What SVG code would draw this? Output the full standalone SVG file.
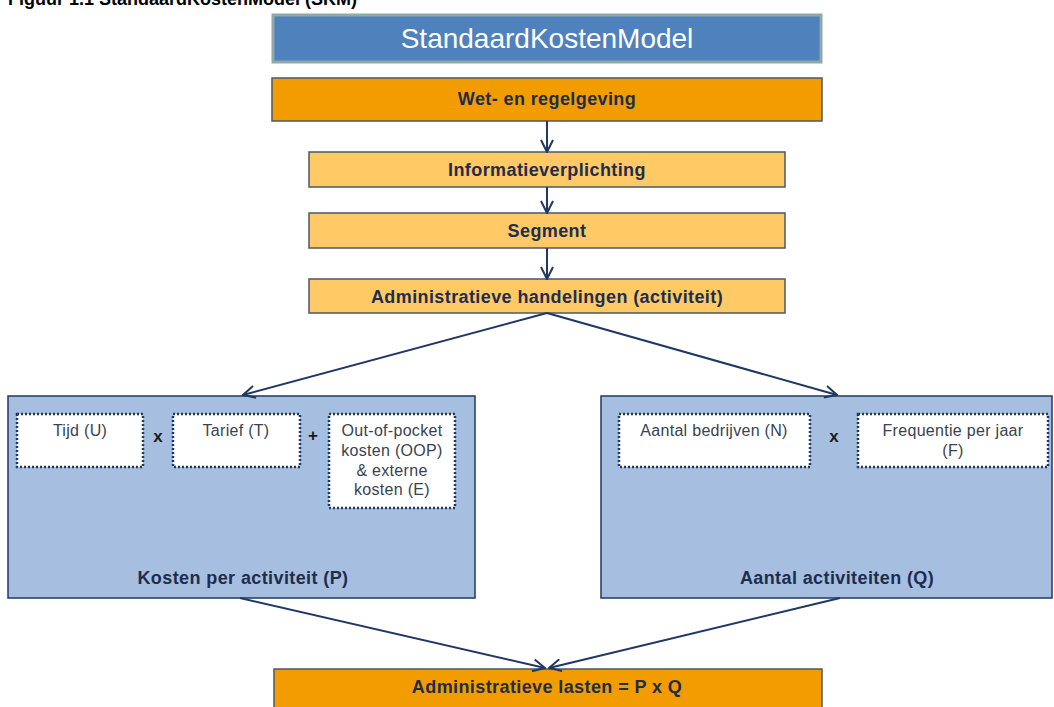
<svg xmlns="http://www.w3.org/2000/svg" width="1054" height="707" viewBox="0 0 1054 707">
<style>
.dark{fill:#F39C00;stroke:#4A5868;stroke-width:1.5}
.light{fill:#FFC966;stroke:#4A5868;stroke-width:1.5}
.big{fill:#A6BFE1;stroke:#1F3864;stroke-width:1.5}
.dot{fill:#FFFFFF;stroke:#1F3864;stroke-width:2.5;stroke-dasharray:2 2}
.bt{font-family:"Liberation Sans",Arial,sans-serif;font-weight:bold;font-size:18px;letter-spacing:0.4px;fill:#1F2D4D;text-anchor:middle}
.st{font-family:"Liberation Sans",Arial,sans-serif;font-size:16px;letter-spacing:0.3px;fill:#3A4250;text-anchor:middle}
.op{font-family:"Liberation Sans",Arial,sans-serif;font-weight:bold;font-size:17px;fill:#1A1A1A;text-anchor:middle}
.conn{stroke:#1F3864;stroke-width:2;fill:none;marker-end:url(#arr)}
</style>
<defs>
<marker id="arr" viewBox="0 0 14 14" refX="13" refY="7" markerWidth="14" markerHeight="14" markerUnits="userSpaceOnUse" orient="auto">
<path d="M1,1 L13,7 L1,13" fill="none" stroke="#1F3864" stroke-width="2"/>
</marker>
</defs>
<rect width="1054" height="707" fill="#FFFFFF"/>
<text x="8" y="5" font-family="Liberation Sans,Arial,sans-serif" font-weight="bold" font-size="18" fill="#000">Figuur 1.1 StandaardKostenModel (SKM)</text>
<g id="header">
<rect x="273" y="15" width="548" height="47" fill="#4F81BD" stroke="#8FA8A8" stroke-width="3"/>
<text x="547" y="48" font-family="Liberation Sans,Arial,sans-serif" font-size="28" fill="#FFFFFF" text-anchor="middle">StandaardKostenModel</text>
</g>
<g id="wet">
<rect class="dark" x="272" y="78" width="550" height="43"/>
<text class="bt" x="547" y="105">Wet- en regelgeving</text>
</g>
<g id="info">
<rect class="light" x="309" y="152" width="476" height="35"/>
<text class="bt" x="547" y="176">Informatieverplichting</text>
</g>
<g id="segment">
<rect class="light" x="309" y="213" width="476" height="35"/>
<text class="bt" x="547" y="237">Segment</text>
</g>
<g id="handelingen">
<rect class="light" x="309" y="279" width="476" height="34"/>
<text class="bt" x="547" y="303">Administratieve handelingen (activiteit)</text>
</g>
<g id="kosten">
<rect class="big" x="8" y="396" width="467" height="202"/>
<rect class="dot" x="17" y="414" width="126" height="53"/>
<text class="st" x="80" y="436">Tijd (U)</text>
<text class="op" x="158" y="442">x</text>
<rect class="dot" x="173" y="414" width="127" height="53"/>
<text class="st" x="236" y="436">Tarief (T)</text>
<text class="op" x="313" y="441">+</text>
<rect class="dot" x="329" y="414" width="126" height="94"/>
<text class="st" x="392" y="436">Out-of-pocket</text>
<text class="st" x="392" y="456">kosten (OOP)</text>
<text class="st" x="392" y="476">&amp; externe</text>
<text class="st" x="392" y="495">kosten (E)</text>
<text class="bt" x="243" y="584">Kosten per activiteit (P)</text>
</g>
<g id="aantal">
<rect class="big" x="601" y="396" width="451" height="202"/>
<rect class="dot" x="619" y="414" width="191" height="53"/>
<text class="st" x="714" y="436">Aantal bedrijven (N)</text>
<text class="op" x="834" y="442">x</text>
<rect class="dot" x="858" y="414" width="190" height="53"/>
<text class="st" x="953" y="436">Frequentie per jaar</text>
<text class="st" x="953" y="456">(F)</text>
<text class="bt" x="837" y="584">Aantal activiteiten (Q)</text>
</g>
<g id="lasten">
<rect class="dark" x="274" y="669" width="548" height="45"/>
<text class="bt" x="547" y="693">Administratieve lasten = P x Q</text>
</g>
<g id="connectors">
<line class="conn" x1="547" y1="121" x2="547" y2="152"/>
<line class="conn" x1="547" y1="187" x2="547" y2="213"/>
<line class="conn" x1="547" y1="248" x2="547" y2="279"/>
<line class="conn" x1="547" y1="313" x2="243" y2="395"/>
<line class="conn" x1="547" y1="313" x2="837" y2="395"/>
<line class="conn" x1="240" y1="598" x2="545" y2="668"/>
<line class="conn" x1="840" y1="598" x2="549" y2="668"/>
</g>
</svg>
